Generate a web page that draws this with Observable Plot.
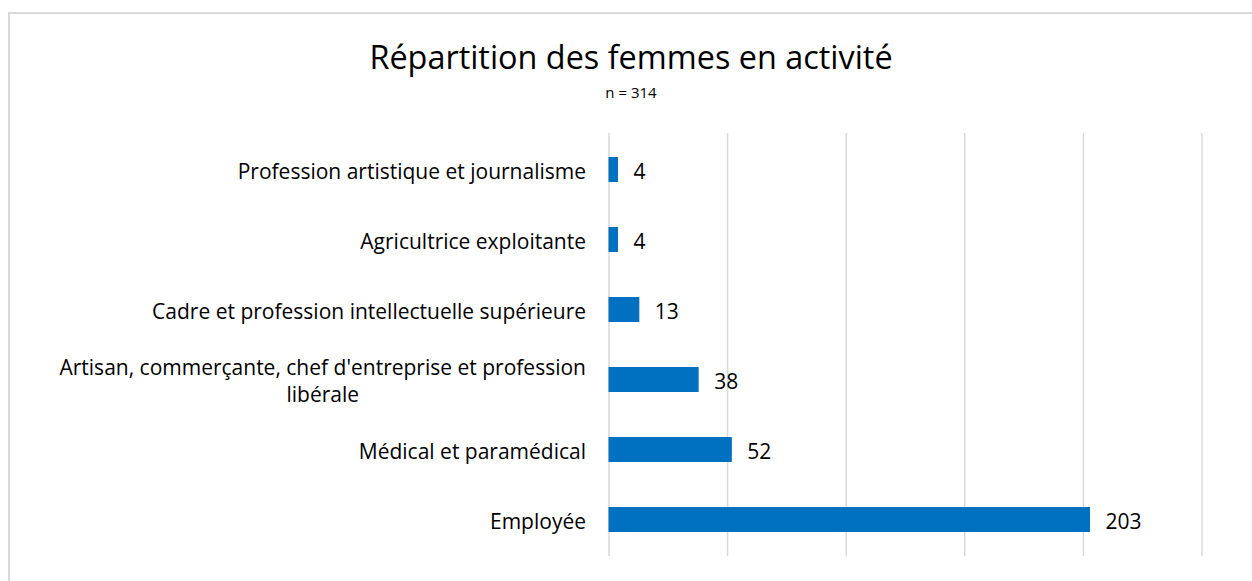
<!DOCTYPE html>
<html><head><meta charset="utf-8">
<script src="https://cdn.jsdelivr.net/npm/d3@7"></script>
<script src="https://cdn.jsdelivr.net/npm/@observablehq/plot@0.6"></script>
<style>
body{margin:0;background:#fff;font-family:"Open Sans",sans-serif;overflow:hidden;}
#frame{position:absolute;left:8px;top:12px;width:1270px;height:620px;border:2px solid #d9d9d9;box-sizing:border-box;}
#title{position:absolute;left:0;width:1262px;top:36px;text-align:center;font-size:32.4px;color:#000;line-height:40px;}
#sub{position:absolute;left:0;width:1262px;top:80.5px;text-align:center;font-size:15px;color:#000;line-height:22px;}
#chart{position:absolute;left:0;top:0;}
</style></head>
<body>
<div id="frame"></div>
<div id="title">Répartition des femmes en activité</div>
<div id="sub">n = 314</div>
<div id="chart"></div>
<script>
const categories = [
  "Profession artistique et journalisme",
  "Agricultrice exploitante",
  "Cadre et profession intellectuelle supérieure",
  "Artisan, commerçante, chef d'entreprise et profession\nlibérale",
  "Médical et paramédical",
  "Employée"
];
const values = [4, 4, 13, 38, 52, 203];
const xTicks = [0, 50, 100, 150, 200, 250];

const data = categories.map((c, i) => ({cat: c, value: values[i]}));

const labelFont = 21;
const gap = 23;
const ctx = document.createElement("canvas").getContext("2d");
ctx.font = `${labelFont}px "Open Sans"`;
const widthOf = s => Math.max(...s.split("\n").map(l => ctx.measureText(l).width));

const labelMarks = categories.map(c => Plot.text([c], {
  x: () => 0, y: d => d, text: d => d,
  textAnchor: "middle", dx: -(gap + widthOf(c) / 2),
  fontSize: labelFont, lineHeight: 1.28, fill: "#000"
}));

const chart = Plot.plot({
  width: 1252, height: 581,
  marginTop: 133, marginBottom: 25, marginLeft: 608.5, marginRight: 50.5,
  style: {background: "transparent", fontFamily: '"Open Sans", sans-serif', color: "#000"},
  x: {domain: [0, 250], axis: null},
  y: {domain: categories, axis: null, paddingInner: 0.645, paddingOuter: 0.3225, align: 0.5},
  marks: [
    Plot.ruleX(xTicks, {stroke: "#d9d9d9", strokeWidth: 1.5}),
    Plot.barX(data, {x: "value", y: "cat", fill: "#0070C0"}),
    Plot.text(data, {x: "value", y: "cat", text: d => String(d.value), textAnchor: "start", dx: 15, dy: 2, fontSize: 21, fill: "#000"}),
    ...labelMarks
  ]
});
document.getElementById("chart").appendChild(chart);
</script>
</body></html>
